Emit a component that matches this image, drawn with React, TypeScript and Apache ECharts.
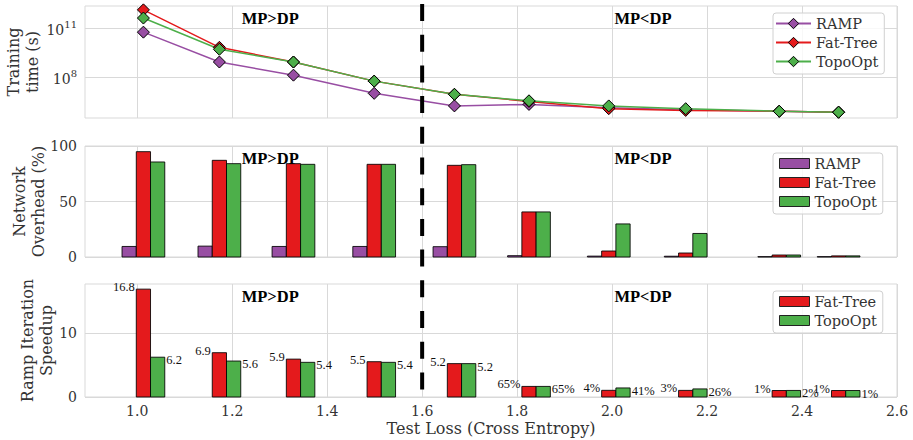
import React, { useEffect, useRef } from "react";
import * as echarts from "echarts";

// ---------- data ----------
const testLoss = [1.013, 1.173, 1.329, 1.499, 1.668, 1.825, 1.993, 2.155, 2.352, 2.477];

// training time (seconds)
const timeRamp = [5.6e10, 8.3e8, 1.3e8, 1.0e7, 1.7e6, 2.1e6, 1.3e6, 1.0e6, 8e5, 7e5];
const timeFatTree = [1.3e12, 6.6e9, 8.3e8, 5.6e7, 8.7e6, 3.2e6, 1.15e6, 9e5, 8e5, 7e5];
const timeTopoOpt = [4.1e11, 5.0e9, 8.3e8, 5.6e7, 8.7e6, 3.5e6, 1.7e6, 1.15e6, 8e5, 7e5];

// network overhead (%)
const overheadRamp = [9.5, 9.8, 9.5, 9.5, 9.3, 1.2, 0.8, 0.7, 0.3, 0.3];
const overheadFatTree = [94.9, 87.1, 84.1, 83.5, 82.6, 40.6, 5.4, 3.6, 1.8, 1.0];
const overheadTopoOpt = [85.6, 84.1, 83.5, 83.5, 83.2, 40.6, 29.8, 21.2, 1.8, 1.0];

// Ramp iteration speedup
const speedupFatTree = [16.8, 6.9, 5.9, 5.5, 5.2, 1.65, 1.04, 1.03, 1.01, 1.01];
const speedupTopoOpt = [6.2, 5.6, 5.4, 5.4, 5.2, 1.65, 1.41, 1.26, 1.02, 1.01];
const speedupLabelsFatTree = ["16.8", "6.9", "5.9", "5.5", "5.2", "65%", "4%", "3%", "1%", "1%"];
const speedupLabelsTopoOpt = ["6.2", "5.6", "5.4", "5.4", "5.2", "65%", "41%", "26%", "2%", "1%"];

const xTicks = [1.0, 1.2, 1.4, 1.6, 1.8, 2.0, 2.2, 2.4, 2.6];
const timeTickExponents = [8, 11];
const overheadTicks = [0, 50, 100];
const speedupTicks = [0, 10];

const DIVIDER = 1.6;
const REGION_LABELS = ["MP>DP", "MP<DP"];
const REGION_LABEL_X = [1.28, 2.065];

// ---------- style ----------
const C_RAMP = "#984ea3";
const C_FAT = "#e41a1c";
const C_TOPO = "#4daf4a";
const SERIF = "DejaVu Serif";
const TIMES = "Liberation Serif";
const GRID_C = "#d9d9d9";
const TXT = "#333";
const BAR_W = 0.03;

const GRIDS = [
  { left: 85, width: 812, top: 6, height: 112 },
  { left: 85, width: 812, top: 146, height: 111 },
  { left: 85, width: 812, top: 284, height: 113 },
];

function barSeries(
  legendName: string,
  values: number[],
  color: string,
  slot: number,
  g: number,
  labels?: string[],
  labelSide?: "left" | "right"
) {
  return {
    type: "custom",
    name: legendName,
    xAxisIndex: g,
    yAxisIndex: g,
    itemStyle: { color, borderColor: "#222", borderWidth: 1 },
    encode: { x: 0, y: 1 },
    data: testLoss.map((x, i) => [x, values[i], i]),
    renderItem: (params: any, api: any) => {
      const x = api.value(0);
      const y = api.value(1);
      const idx = api.value(2);
      const base = api.coord([x, 0]);
      const top = api.coord([x, y]);
      const w = api.size([BAR_W, 0])[0];
      const left = base[0] + (slot - 0.5) * w;
      const children: any[] = [
        {
          type: "rect",
          shape: { x: left, y: top[1], width: w, height: base[1] - top[1] },
          style: { fill: color, stroke: "rgba(0,0,0,0.85)", lineWidth: 1 },
        },
      ];
      if (labels) {
        const txt = labels[idx];
        const right = labelSide !== "left";
        children.push({
          type: "text",
          style: {
            text: txt,
            x: right ? left + w + 1.5 : left - 1.5,
            y: right ? top[1] + 3 : top[1] - 2,
            align: right ? "left" : "right",
            verticalAlign: "middle",
            fontSize: 12.5,
            fontFamily: TIMES,
            fill: "#111",
          },
        });
      }
      return { type: "group", children };
    },
  };
}

function lineSeries(name: string, values: number[], color: string) {
  return {
    type: "line",
    name,
    xAxisIndex: 0,
    yAxisIndex: 0,
    data: testLoss.map((x, i) => [x, Math.log10(values[i])]),
    symbol: "diamond",
    symbolSize: 12,
    lineStyle: { color, width: 1.5 },
    itemStyle: { color, borderColor: "#000", borderWidth: 1 },
    emphasis: { disabled: true },
  };
}

function xAxis(g: number) {
  return {
    type: "value",
    gridIndex: g,
    min: 0.89,
    max: 2.6,
    axisLine: { show: false },
    axisTick: { show: false, customValues: xTicks },
    splitLine: { show: true, lineStyle: { color: GRID_C, width: 1 } },
    axisLabel: {
      show: g === 2,
      customValues: xTicks,
      formatter: (v: number) => v.toFixed(1),
      color: TXT,
      fontFamily: SERIF,
      fontSize: 14,
      margin: 7,
    },
    name: g === 2 ? "Test Loss (Cross Entropy)" : "",
    nameLocation: "middle",
    nameGap: 23,
    nameMoveOverlap: false,
    nameTextStyle: { color: TXT, fontFamily: SERIF, fontSize: 16 },
  };
}

function legend(g: number, names: string[], icon?: string) {
  return {
    left: 773,
    top: GRIDS[g].top + 7,
    orient: "vertical",
    selectedMode: false,
    data: names,
    icon,
    itemWidth: icon ? 30 : 35,
    itemHeight: icon ? 10 : 13,
    itemGap: 4,
    itemStyle: { borderColor: "inherit", borderWidth: 1 },
    formatter: (n: string) => n.split("|")[0],
    textStyle: { color: TXT, fontFamily: SERIF, fontSize: 14.5 },
    padding: icon ? [3, 6, 5, 6] : [3, 6, 5, 2],
    backgroundColor: "rgba(255,255,255,0.8)",
    borderColor: "#d0d0d0",
    borderWidth: 1,
    borderRadius: 3,
  };
}

export default function App() {
  const ref = useRef<HTMLDivElement>(null);
  useEffect(() => {
    if (!ref.current) return;
    const chart = echarts.init(ref.current, undefined, { renderer: "svg" });
    const yName = { color: TXT, fontFamily: SERIF, fontSize: 16, lineHeight: 19 };
    const yLabel = { color: TXT, fontFamily: SERIF, fontSize: 14, margin: 8 };
    const option: any = {
      animation: false,
      backgroundColor: "#fff",
      grid: GRIDS.map((g) => ({
        ...g,
        show: true,
        containLabel: false,
        outerBoundsMode: "none",
        borderColor: GRID_C,
        borderWidth: 1,
        backgroundColor: "#fff",
      })),
      xAxis: [xAxis(0), xAxis(1), xAxis(2)],
      yAxis: [
        {
          type: "value",
          gridIndex: 0,
          min: 5.49,
          max: 12.35,
          axisLine: { show: false },
          axisTick: { show: false, customValues: timeTickExponents },
          splitLine: { show: true, lineStyle: { color: GRID_C } },
          axisLabel: {
            ...yLabel,
            customValues: timeTickExponents,
            formatter: (v: number) => `{b|10}{s|${Math.round(v)}}`,
            rich: {
              b: { fontFamily: SERIF, fontSize: 14, color: TXT, verticalAlign: "bottom", lineHeight: 18 },
              s: { fontFamily: SERIF, fontSize: 10, color: TXT, verticalAlign: "top", lineHeight: 18 },
            },
          },
          name: "Training\ntime (s)",
          nameLocation: "middle",
          nameGap: 43,
          nameMoveOverlap: false,
          nameTextStyle: yName,
        },
        {
          type: "value",
          gridIndex: 1,
          min: 0,
          max: 100,
          axisLine: { show: false },
          axisTick: { show: false, customValues: overheadTicks },
          splitLine: { show: true, lineStyle: { color: GRID_C } },
          axisLabel: { ...yLabel, customValues: overheadTicks },
          name: "Network\nOverhead (%)",
          nameLocation: "middle",
          nameGap: 37.5,
          nameMoveOverlap: false,
          nameTextStyle: yName,
        },
        {
          type: "value",
          gridIndex: 2,
          min: 0,
          max: 17.6,
          axisLine: { show: false },
          axisTick: { show: false, customValues: speedupTicks },
          splitLine: { show: true, lineStyle: { color: GRID_C } },
          axisLabel: { ...yLabel, customValues: speedupTicks },
          name: "Ramp Iteration\nSpeedup",
          nameLocation: "middle",
          nameGap: 29,
          nameMoveOverlap: false,
          nameTextStyle: yName,
        },
      ],
      legend: [
        legend(0, ["RAMP", "Fat-Tree", "TopoOpt"]),
        legend(1, ["RAMP|o", "Fat-Tree|o", "TopoOpt|o"], "rect"),
        legend(2, ["Fat-Tree|s", "TopoOpt|s"], "rect"),
      ],
      series: [
        lineSeries("RAMP", timeRamp, C_RAMP),
        lineSeries("Fat-Tree", timeFatTree, C_FAT),
        lineSeries("TopoOpt", timeTopoOpt, C_TOPO),
        barSeries("RAMP|o", overheadRamp, C_RAMP, -1, 1),
        barSeries("Fat-Tree|o", overheadFatTree, C_FAT, 0, 1),
        barSeries("TopoOpt|o", overheadTopoOpt, C_TOPO, 1, 1),
        barSeries("Fat-Tree|s", speedupFatTree, C_FAT, 0, 2, speedupLabelsFatTree, "left"),
        barSeries("TopoOpt|s", speedupTopoOpt, C_TOPO, 1, 2, speedupLabelsTopoOpt, "right"),
      ],
    };
    chart.setOption(option);

    const graphics: any[] = [];
    const divX = chart.convertToPixel({ xAxisIndex: 0 }, DIVIDER) as number;
    graphics.push({
      type: "line",
      z: 100,
      shape: { x1: divX, y1: 4, x2: divX, y2: 390 },
      style: { stroke: "#000", lineWidth: 4, lineDash: [17, 13.7] },
    });
    GRIDS.forEach((g, gi) => {
      REGION_LABELS.forEach((t, k) => {
        const px = chart.convertToPixel({ xAxisIndex: gi }, REGION_LABEL_X[k]) as number;
        graphics.push({
          type: "text",
          z: 50,
          style: {
            text: t,
            x: px,
            y: g.top + 12,
            align: "center",
            verticalAlign: "middle",
            fontSize: 16.5,
            fontWeight: "bold",
            fontFamily: TIMES,
            fill: "#000",
          },
        });
      });
    });
    chart.setOption({ graphic: graphics });

    return () => chart.dispose();
  }, []);
  return (
    <div
      ref={ref}
      style={{ position: "fixed", left: 0, top: 0, width: 913, height: 440 }}
    />
  );
}
